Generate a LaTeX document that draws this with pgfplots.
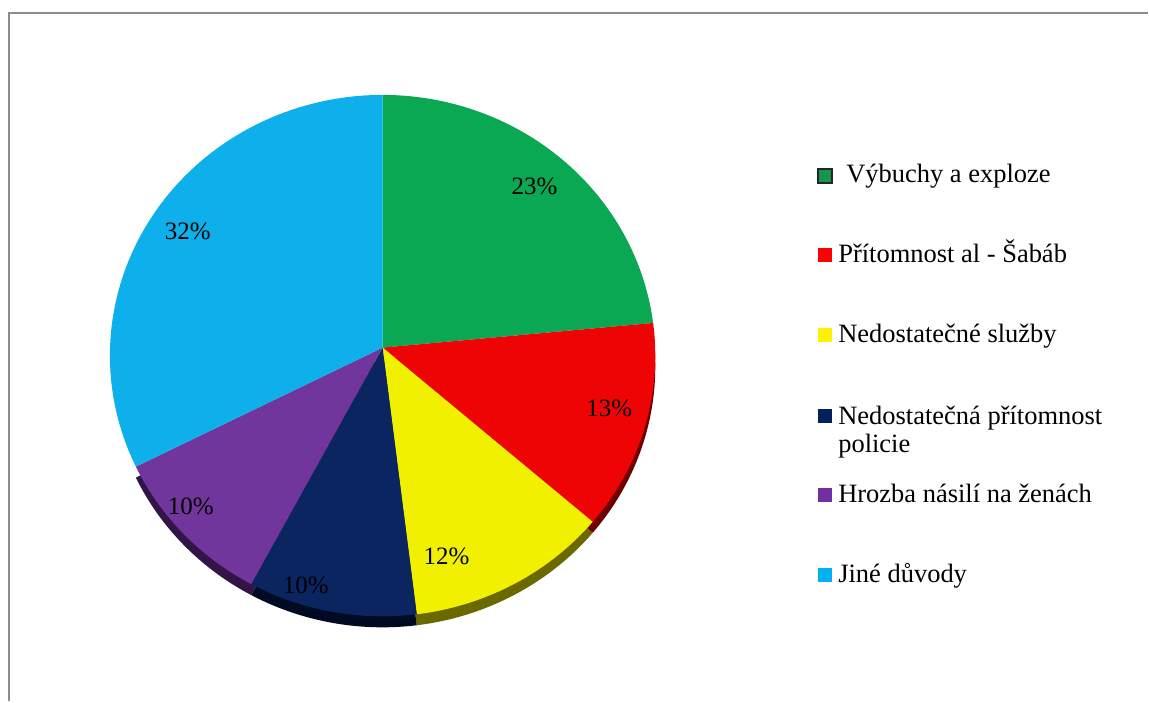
\documentclass[border=0pt]{standalone}
\usepackage{pgfplots}
\pgfplotsset{compat=1.18}
\usepackage{pgfplotstable}
\usepackage{fontspec}
\setmainfont{Liberation Serif}

\definecolor{cGreen}{RGB}{10,168,82}
\definecolor{cRed}{RGB}{238,4,4}
\definecolor{cYellow}{RGB}{240,240,0}
\definecolor{cNavy}{RGB}{10,37,96}
\definecolor{cPurple}{RGB}{113,54,155}
\definecolor{cBlue}{RGB}{13,176,235}
\definecolor{sGreen}{RGB}{0,85,40}
\definecolor{sRed}{RGB}{110,0,0}
\definecolor{sYellow}{RGB}{105,105,0}
\definecolor{sNavy}{RGB}{0,10,35}
\definecolor{sPurple}{RGB}{50,20,70}
\definecolor{lGreen}{RGB}{20,150,75}
\definecolor{lNavy}{RGB}{0,32,96}
\definecolor{lPurple}{RGB}{112,48,160}
\definecolor{lBlue}{RGB}{0,176,240}
\definecolor{frame}{RGB}{140,140,140}

% shares in percent, clockwise from the top
\pgfplotstableread{
pct
23
13
12
10
10
32
}\piedata

\newcommand\getpct[2]{\pgfplotstablegetelem{#1}{pct}\of\piedata\edef#2{\pgfplotsretval}}
\getpct{0}\pA\getpct{1}\pB\getpct{2}\pC\getpct{3}\pD\getpct{4}\pE\getpct{5}\pF
\pgfmathsetmacro\tA{90}
\pgfmathsetmacro\tB{\tA-3.6*\pA}
\pgfmathsetmacro\tC{\tB-3.6*\pB}
\pgfmathsetmacro\tD{\tC-3.6*\pC}
\pgfmathsetmacro\tE{\tD-3.6*\pD}
\pgfmathsetmacro\tF{\tE-3.6*\pE}
\pgfmathsetmacro\tG{\tF-3.6*\pF}

% side of the slice (shifted down), then its top face
\newcommand\side[3]{\addplot[draw=none, fill=#3, domain=#2:#1, samples=60, variable=\t]
  ({383+273*cos(\t)},{367-261*sin(\t)}) -- (383,359) -- cycle;}
\newcommand\slice[3]{\addplot[draw=none, fill=#3, domain=#2:#1, samples=60, variable=\t]
  ({383+273*cos(\t)},{356-261*sin(\t)}) -- (383,348) -- cycle;}

\begin{document}
\begin{tikzpicture}
\begin{axis}[
  width=1149pt, height=702pt, scale only axis,
  xmin=0, xmax=1149, ymin=0, ymax=702, y dir=reverse,
  hide axis, clip=false,
]
\path (0,0) rectangle (1149,702);
\draw[frame, line width=2.5pt] (9,702) -- (9,13) -- (1149,13);

\side{\tB}{\tC}{sRed}
\side{\tC}{\tD}{sYellow}
\side{\tD}{\tE}{sNavy}
\side{\tE}{\tF}{sPurple}

\slice{\tA}{\tB}{cGreen}
\slice{\tB}{\tC}{cRed}
\slice{\tC}{\tD}{cYellow}
\slice{\tD}{\tE}{cNavy}
\slice{\tE}{\tF}{cPurple}
\slice{\tF}{\tG}{cBlue}

\begin{scope}[every node/.style={font=\fontsize{25}{28}\selectfont, inner sep=0pt}]
\node at (535,187) {23\%};
\node at (610,409) {13\%};
\node at (447,557) {12\%};
\node at (306,586) {10\%};
\node at (191,507) {10\%};
\node at (188,232) {32\%};
\end{scope}

% legend
\begin{scope}[every node/.style={font=\fontsize{26.5}{28}\selectfont, inner sep=0pt, anchor=base west}]
\fill[lGreen, draw=black!85, line width=2pt] (819,169) rectangle (833,183);
\fill[red] (819,248.5) rectangle (833,262.5);
\fill[yellow] (819,328.5) rectangle (833,342.5);
\fill[lNavy] (819,409) rectangle (833,423);
\fill[lPurple] (819,488.5) rectangle (833,502.5);
\fill[lBlue] (819,568.5) rectangle (833,582.5);
\node at (847,183) {Výbuchy a exploze};
\node at (839,263) {Přítomnost al - Šabáb};
\node at (839,343) {Nedostatečné služby};
\node at (839,425) {Nedostatečná přítomnost};
\node at (839,453) {policie};
\node at (839,503) {Hrozba násilí na ženách};
\node at (839,583) {Jiné důvody};
\end{scope}
\end{axis}
\end{tikzpicture}
\end{document}
